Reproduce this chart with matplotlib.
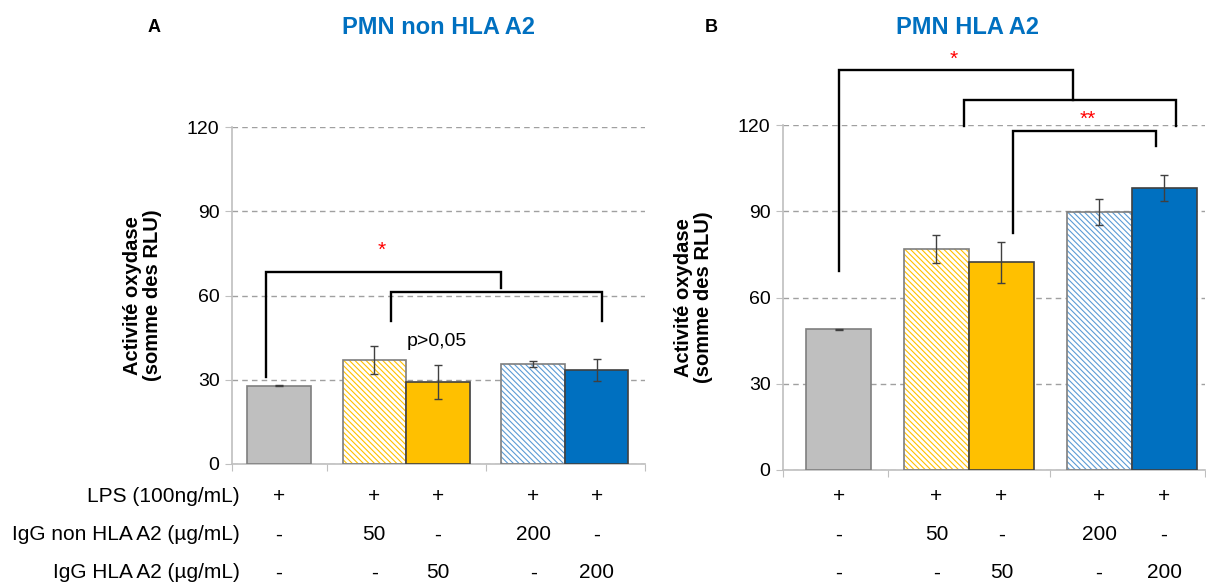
import matplotlib
matplotlib.use('Agg')
from matplotlib import pyplot as plt
from matplotlib.transforms import blended_transform_factory

plt.rcParams['font.family'] = ['Liberation Sans', 'DejaVu Sans']
plt.rcParams['hatch.linewidth'] = 0.8

# data
positions = [0, 1.5, 2.5, 4, 5]
values_a = [27.8, 37.0, 29.2, 35.7, 33.5]
errors_a = [0.2, 5.0, 6.0, 1.0, 3.8]
values_b = [49.0, 76.9, 72.2, 89.6, 98.0]
errors_b = [0.2, 4.9, 7.0, 4.5, 4.5]

row_labels = ['LPS (100ng/mL)', 'IgG non HLA A2 (µg/mL)', 'IgG HLA A2 (µg/mL)']
row_lps = ['+', '+', '+', '+', '+']
row_igg_non = ['-', '50', '-', '200', '-']
row_igg_hla = ['-', '-', '50', '-', '200']

yticks = [0, 30, 60, 90, 120]

# brackets: x left, x right, y top, y bottom left, y bottom right
brackets_a = [(-0.2, 3.49, 68.3, 31.0, 62.8),
              (1.76, 5.09, 61.3, 50.8, 50.8)]
stars_a = [(1.62, 76.0, '*')]
brackets_b = [(0.0, 3.6, 139.3, 69.3, 128.8),
              (1.92, 5.18, 128.7, 119.8, 119.8),
              (2.67, 4.87, 118.0, 82.4, 112.6)]
stars_b = [(1.77, 143.0, '*'), (3.82, 121.8, '**')]

# style
face = ['#BFBFBF', 'white', '#FFC000', 'white', '#0070C0']
hatch_col = [None, '#FFC000', None, '#5B9BD5', None]
edge = ['#7F7F7F', '#7F7F7F', '#404040', '#7F7F7F', '#404040']

W, H = 1206, 585
fig = plt.figure(figsize=(W / 100, H / 100), dpi=100)
fig.patch.set_facecolor('white')


def draw_panel(rect, xlim, values, errors, brackets, stars):
    ax = fig.add_axes(rect)
    for i in range(len(positions)):
        if hatch_col[i]:
            ax.bar(positions[i], values[i], width=1.0, color='white',
                   edgecolor=hatch_col[i], hatch='\\\\\\\\\\\\', linewidth=0, zorder=2)
            ax.bar(positions[i], values[i], width=1.0, fill=False,
                   edgecolor=edge[i], linewidth=1.2, zorder=3)
        else:
            ax.bar(positions[i], values[i], width=1.0, color=face[i],
                   edgecolor=edge[i], linewidth=1.2, zorder=3)
    ax.errorbar(positions, values, yerr=errors, fmt='none', ecolor='#404040',
                elinewidth=1.0, capsize=3, capthick=1.0, zorder=4)
    ax.set_xlim(*xlim)
    ax.set_ylim(0, 120)
    ax.set_yticks(yticks)
    ax.yaxis.grid(True, linestyle=(0, (4, 3)), color='#A0A0A0', linewidth=1.0, zorder=0)
    ax.set_axisbelow(True)
    ax.set_xticks([xlim[0], 0.75, 3.25, xlim[1]])
    ax.set_xticklabels([])
    ax.tick_params(axis='x', direction='out', length=5, color='#BFBFBF')
    ax.tick_params(axis='y', direction='out', length=5, color='#BFBFBF',
                   labelsize=14, pad=4)
    for s in ['top', 'right']:
        ax.spines[s].set_visible(False)
    for s in ['left', 'bottom']:
        ax.spines[s].set_color('#BFBFBF')
        ax.spines[s].set_linewidth(1.2)
    ax.set_ylabel('Activité oxydase\n(somme des RLU)', fontsize=14.5,
                  fontweight='bold', labelpad=18, linespacing=1.05)

    for xl, xr, yt, ybl, ybr in brackets:
        ax.plot([xl, xl, xr, xr], [ybl, yt, yt, ybr], color='black',
                linewidth=1.7, clip_on=False, zorder=5, solid_joinstyle='miter')
    for x, y, s in stars:
        ax.text(x, y, s, color='red', fontsize=15, ha='center', va='center')

    tr = blended_transform_factory(ax.transData, fig.transFigure)
    for row, ypx in zip([row_lps, row_igg_non, row_igg_hla], [497, 535, 573]):
        for x, s in zip(positions, row):
            ax.text(x, 1 - ypx / H, s, transform=tr, fontsize=15,
                    ha='center', va='center')
    return ax


ax_a = draw_panel([232 / W, (H - 464) / H, 413 / W, 337 / H], (-0.74, 5.76),
                  values_a, errors_a, brackets_a, stars_a)
ax_a.text(2.48, 43.6, 'p>0,05', fontsize=14, ha='center', va='center')

ax_b = draw_panel([783 / W, (H - 470) / H, 422 / W, 345 / H], (-0.86, 5.63),
                  values_b, errors_b, brackets_b, stars_b)

for lab, ypx in zip(row_labels, [497, 535, 573]):
    fig.text(240 / W, 1 - ypx / H, lab, fontsize=15, ha='right', va='center')

fig.text(154 / W, 1 - 27 / H, 'A', fontsize=13, fontweight='bold', ha='center', va='center')
fig.text(711 / W, 1 - 27 / H, 'B', fontsize=13, fontweight='bold', ha='center', va='center')
fig.text(438 / W, 1 - 27 / H, 'PMN non HLA A2', fontsize=17, fontweight='bold',
         color='#0070C0', ha='center', va='center')
fig.text(967 / W, 1 - 27 / H, 'PMN HLA A2', fontsize=17, fontweight='bold',
         color='#0070C0', ha='center', va='center')

fig.savefig('out.png', dpi=100, facecolor='white')
